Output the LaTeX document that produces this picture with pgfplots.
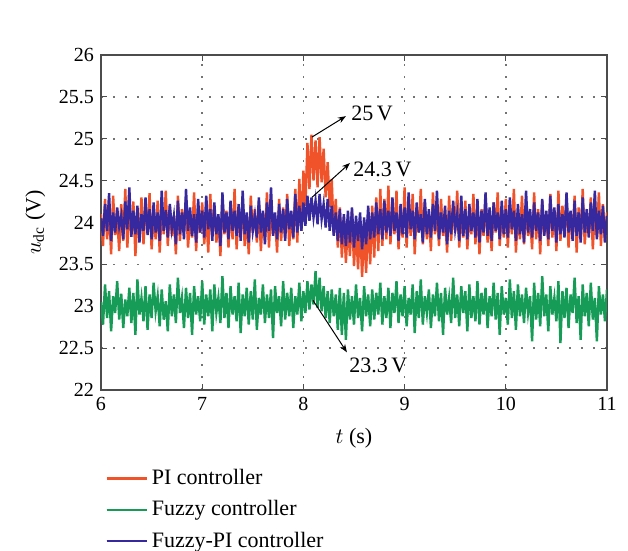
\documentclass[border=0pt]{standalone}
\usepackage{pgfplots}
\pgfplotsset{compat=1.18}
\usepackage{pgfplotstable}
\usetikzlibrary{arrows.meta}
\usepackage{fontspec}
\setmainfont{Liberation Serif}

\definecolor{piC}{RGB}{240,82,42}
\definecolor{fzC}{RGB}{22,156,86}
\definecolor{fpiC}{RGB}{54,40,158}

% x, PI, Fuzzy, Fuzzy-PI
\pgfplotstableread{
x pi fz fpi
6.00 24.10 23.05 24.05
6.02 23.72 22.78 23.84
6.04 24.28 23.26 24.22
6.06 23.80 22.86 23.90
6.08 24.15 23.18 24.35
6.10 23.62 22.70 23.78
6.12 24.32 23.12 24.12
6.14 23.85 22.92 23.88
6.16 24.05 23.30 24.18
6.18 23.66 22.84 23.95
6.20 24.22 23.15 24.08
6.22 23.78 22.74 23.80
6.24 24.40 23.08 24.25
6.26 23.70 22.88 23.92
6.28 24.12 23.22 24.42
6.30 23.88 22.80 23.83
6.32 24.25 23.16 24.14
6.34 23.60 22.66 23.86
6.36 24.08 23.32 24.20
6.38 23.82 22.90 23.76
6.40 24.30 23.10 24.10
6.42 23.74 22.82 23.90
6.44 24.18 23.24 24.30
6.46 23.92 22.72 23.85
6.48 24.35 23.14 24.16
6.50 23.68 22.86 23.80
6.52 24.10 23.28 24.24
6.54 23.80 22.94 23.88
6.56 24.26 23.12 24.12
6.58 23.64 22.76 23.78
6.60 24.14 23.20 24.38
6.62 23.86 22.84 23.90
6.64 24.38 23.06 24.15
6.66 23.72 22.70 23.82
6.68 24.20 23.26 24.22
6.70 23.84 22.88 23.92
6.72 24.08 23.14 24.08
6.74 23.62 22.80 23.74
6.76 24.32 23.34 24.26
6.78 23.78 22.92 23.86
6.80 24.16 23.10 24.12
6.82 23.90 22.74 23.80
6.84 24.28 23.22 24.40
6.86 23.70 22.86 23.90
6.88 24.06 23.16 24.18
6.90 23.82 22.66 23.84
6.92 24.36 23.24 24.10
6.94 23.66 22.90 23.76
6.96 24.12 23.12 24.28
6.98 23.88 22.82 23.88
7.00 24.24 23.30 24.14
7.02 23.74 22.78 23.82
7.04 24.10 23.14 24.32
7.06 23.64 22.88 23.92
7.08 24.34 23.20 24.16
7.10 23.84 22.70 23.78
7.12 24.18 23.26 24.24
7.14 23.76 22.92 23.86
7.16 24.06 23.10 24.10
7.18 23.60 22.80 23.72
7.20 24.30 23.36 24.36
7.22 23.86 22.86 23.88
7.24 24.14 23.16 24.12
7.26 23.70 22.74 23.80
7.28 24.22 23.24 24.26
7.30 23.80 22.90 23.90
7.32 24.40 23.12 24.14
7.34 23.68 22.82 23.84
7.36 24.10 23.28 24.22
7.38 23.84 22.68 23.78
7.40 24.26 23.14 24.38
7.42 23.72 22.88 23.86
7.44 24.08 23.22 24.12
7.46 23.62 22.78 23.76
7.48 24.32 23.18 24.20
7.50 23.88 22.84 23.90
7.52 24.16 23.32 24.08
7.54 23.76 22.72 23.82
7.56 24.24 23.10 24.30
7.58 23.66 22.90 23.88
7.60 24.12 23.26 24.14
7.62 23.82 22.80 23.74
7.64 24.36 23.14 24.24
7.66 23.70 22.86 23.90
7.68 24.20 23.20 24.42
7.70 23.86 22.62 23.84
7.72 24.06 23.24 24.12
7.74 23.64 22.92 23.80
7.76 24.28 23.12 24.22
7.78 23.78 22.76 23.88
7.80 24.18 23.30 24.16
7.82 23.84 22.84 23.78
7.84 24.34 23.16 24.28
7.86 23.72 22.88 23.92
7.88 24.10 23.22 24.14
7.90 23.80 22.74 23.82
7.92 24.40 23.12 24.34
7.94 23.76 22.90 23.88
7.96 24.52 23.28 24.20
7.98 23.90 22.82 23.90
8.00 24.62 23.18 24.24
8.02 24.20 22.92 23.96
8.04 24.95 23.30 24.32
8.06 24.40 22.96 24.02
8.08 25.05 23.26 24.30
8.10 24.50 23.02 24.06
8.12 24.98 23.42 24.26
8.14 24.42 22.98 23.98
8.16 25.02 23.34 24.34
8.18 24.48 22.94 24.04
8.20 24.88 23.24 24.22
8.22 24.30 22.86 23.94
8.24 24.72 23.18 24.28
8.26 24.18 22.80 23.90
8.28 24.52 23.20 24.20
8.30 23.86 22.88 23.84
8.32 24.28 23.14 24.12
8.34 23.70 22.72 23.78
8.36 24.18 23.22 24.16
8.38 23.58 22.66 23.74
8.40 24.06 23.16 24.10
8.42 23.52 22.60 23.72
8.44 24.00 23.20 24.14
8.46 23.60 22.84 23.76
8.48 24.14 23.12 24.18
8.50 23.48 22.78 23.70
8.52 23.96 23.26 24.08
8.54 23.44 22.86 23.78
8.56 24.02 23.10 24.12
8.58 23.35 22.70 23.68
8.60 23.92 23.24 24.06
8.62 23.40 22.88 23.74
8.64 24.08 23.14 24.20
8.66 23.50 22.76 23.80
8.68 24.20 23.20 24.12
8.70 23.58 22.84 23.82
8.72 24.30 23.16 24.24
8.74 23.66 22.90 23.86
8.76 24.40 23.28 24.16
8.78 23.72 22.78 23.80
8.80 24.28 23.12 24.26
8.82 23.80 22.86 23.88
8.84 24.44 23.22 24.14
8.86 23.74 22.74 23.84
8.88 24.18 23.16 24.30
8.90 23.86 22.92 23.90
8.92 24.38 23.30 24.12
8.94 23.68 22.80 23.78
8.96 24.12 23.14 24.22
8.98 23.82 22.88 23.86
9.00 24.42 23.24 24.18
9.02 23.70 22.76 23.82
9.04 24.20 23.10 24.36
9.06 23.84 22.90 23.92
9.08 24.34 23.26 24.14
9.10 23.62 22.68 23.80
9.12 24.16 23.18 24.24
9.14 23.88 22.86 23.88
9.16 24.40 23.32 24.10
9.18 23.74 22.78 23.76
9.20 24.24 23.12 24.28
9.22 23.80 22.92 23.86
9.24 24.10 23.20 24.16
9.26 23.66 22.74 23.82
9.28 24.36 23.14 24.22
9.30 23.86 22.88 23.90
9.32 24.14 23.28 24.38
9.34 23.72 22.82 23.80
9.36 24.28 23.16 24.12
9.38 23.84 22.66 23.88
9.40 24.08 23.22 24.20
9.42 23.64 22.90 23.74
9.44 24.32 23.10 24.14
9.46 23.78 22.80 23.86
9.48 24.18 23.34 24.26
9.50 23.88 22.86 23.92
9.52 24.38 23.14 24.10
9.54 23.70 22.76 23.78
9.56 24.12 23.24 24.32
9.58 23.82 22.92 23.84
9.60 24.26 23.18 24.16
9.62 23.68 22.70 23.80
9.64 24.10 23.26 24.22
9.66 23.86 22.86 23.90
9.68 24.34 23.12 24.12
9.70 23.74 22.82 23.82
9.72 24.20 23.30 24.28
9.74 23.62 22.78 23.76
9.76 24.16 23.16 24.14
9.78 23.84 22.90 23.88
9.80 24.30 23.22 24.36
9.82 23.76 22.74 23.84
9.84 24.08 23.12 24.18
9.86 23.66 22.88 23.78
9.88 24.24 23.28 24.24
9.90 23.88 22.84 23.90
9.92 24.36 23.16 24.12
9.94 23.72 22.66 23.80
9.96 24.14 23.24 24.26
9.98 23.82 22.90 23.86
10.00 24.28 23.10 24.16
10.02 23.70 22.78 23.82
10.04 24.18 23.32 24.30
10.06 23.86 22.86 23.92
10.08 24.40 23.18 24.14
10.10 23.64 22.72 23.78
10.12 24.12 23.26 24.22
10.14 23.80 22.88 23.86
10.16 24.32 23.14 24.10
10.18 23.74 22.80 23.76
10.20 24.20 23.22 24.38
10.22 23.84 22.92 23.88
10.24 24.06 23.12 24.16
10.26 23.68 22.58 23.82
10.28 24.36 23.28 24.24
10.30 23.80 22.84 23.90
10.32 24.16 23.16 24.12
10.34 23.62 22.76 23.78
10.36 24.26 23.36 24.28
10.38 23.86 22.88 23.84
10.40 24.10 23.14 24.14
10.42 23.72 22.70 23.80
10.44 24.34 23.24 24.32
10.46 23.82 22.90 23.90
10.48 24.14 23.10 24.18
10.50 23.66 22.82 23.76
10.52 24.38 23.30 24.22
10.54 23.78 22.56 23.86
10.56 24.20 23.18 24.10
10.58 23.88 22.86 23.82
10.60 24.28 23.22 24.36
10.62 23.70 22.74 23.88
10.64 24.12 23.14 24.14
10.66 23.84 22.92 23.78
10.68 24.32 23.34 24.26
10.70 23.64 22.80 23.84
10.72 24.18 23.12 24.12
10.74 23.80 22.60 23.76
10.76 24.40 23.26 24.30
10.78 23.74 22.88 23.88
10.80 24.08 23.16 24.16
10.82 23.86 22.76 23.82
10.84 24.30 23.28 24.24
10.86 23.68 22.84 23.90
10.88 24.16 23.10 24.38
10.90 23.82 22.58 23.80
10.92 24.36 23.24 24.14
10.94 23.72 22.90 23.86
10.96 24.22 23.14 24.20
10.98 23.78 22.82 23.76
11.00 24.12 23.20 24.08
}\udc

\begin{document}
\begin{tikzpicture}
\useasboundingbox (-50.5pt,-80.5pt) rectangle (263.5pt,195pt);
\begin{axis}[
  at={(0,0)}, anchor=south west,
  scale only axis, width=253pt, height=167.5pt,
  xmin=6, xmax=11, ymin=22, ymax=26,
  xtick={6,7,...,11}, ytick={22,22.5,...,26},
  /pgf/number format/assume math mode=true,
  yticklabel style={/pgf/number format/fixed},
  tick label style={font=\fontsize{10}{12}\selectfont},
  tick align=inside, major tick length=3pt,
  tick style={black!70, line width=0.5pt},
  axis line style={black!70, line width=0.8pt},
  grid=major,
  grid style={black!55, line width=0.8pt, dash pattern=on 0.8pt off 5.2pt},
  xlabel={$t$ (s)},
  ylabel={$u_{\mathrm{dc}}$ (V)},
  label style={font=\fontsize{11}{13}\selectfont},
  xlabel style={at={(axis description cs:0.5,-0.143)}, anchor=center},
  ylabel style={at={(axis description cs:-0.13,0.5)}, anchor=center},
  legend style={at={(0,0)}, anchor=north west, yshift=-37.5pt, xshift=2pt,
    draw=none, fill=none, inner sep=0pt, row sep=2.5pt,
    font=\fontsize{11}{13}\selectfont, cells={anchor=west}},
  legend image code/.code={\draw[#1, line width=0.7pt] (0pt,0pt) -- (15pt,0pt);
    \path (0pt,0pt) -- (20pt,0pt);},
]
\addplot[piC, line width=1.2pt] table[x=x, y=pi] {\udc};
\addplot[fzC, line width=1.2pt] table[x=x, y=fz] {\udc};
\addplot[fpiC, line width=1.2pt] table[x=x, y=fpi] {\udc};
\legend{PI controller, Fuzzy controller, Fuzzy-PI controller}

\draw[-{Stealth[length=4pt, width=3pt]}, line width=0.5pt] (axis cs:8.085,25.02) -- (axis cs:8.42,25.27);
\node[anchor=west, font=\fontsize{11}{13}\selectfont, inner sep=1pt] at (axis cs:8.45,25.30) {25\,V};
\draw[-{Stealth[length=4pt, width=3pt]}, line width=0.5pt] (axis cs:8.085,24.30) -- (axis cs:8.46,24.71);
\node[anchor=west, font=\fontsize{11}{13}\selectfont, inner sep=1pt] at (axis cs:8.47,24.64) {24.3\,V};
\draw[-{Stealth[length=4pt, width=3pt]}, line width=0.5pt] (axis cs:8.095,23.07) -- (axis cs:8.43,22.45);
\node[anchor=west, font=\fontsize{11}{13}\selectfont, inner sep=1pt] at (axis cs:8.43,22.29) {23.3\,V};
\end{axis}
\end{tikzpicture}
\end{document}
